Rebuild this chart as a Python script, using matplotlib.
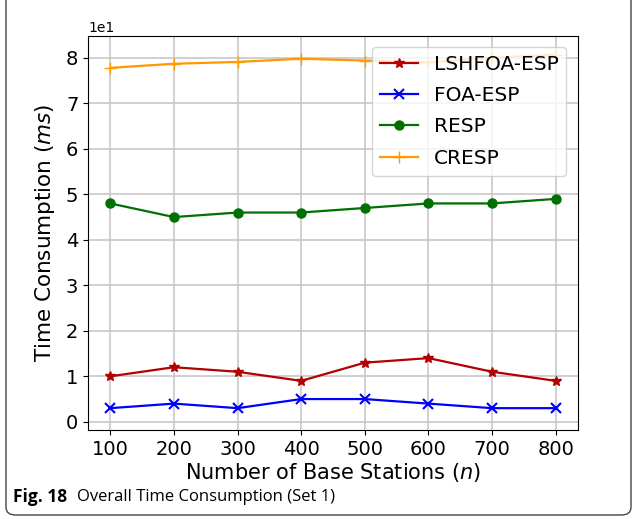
import numpy as np
import matplotlib.pyplot as plt
from matplotlib.patches import FancyBboxPatch

n = [100, 200, 300, 400, 500, 600, 700, 800]
lshfoa = [10, 12, 11, 9, 13, 14, 11, 9]
foa = [3, 4, 3, 5, 5, 4, 3, 3]
resp = [48, 45, 46, 46, 47, 48, 48, 49]
cresp = [77.8, 78.7, 79.1, 79.8, 79.4, 79.0, 80.0, 80.7]

fig = plt.figure(figsize=(6.37, 5.19), dpi=100)
ax = fig.add_axes([88/637, 1 - 430/519, 490/637, 394/519])

ax.plot(n, lshfoa, color='#b30000', marker='*', markersize=7, lw=1.6, label='LSHFOA-ESP')
ax.plot(n, foa, color='#0000ff', marker='x', markersize=6.5, mew=1.5, lw=1.6, label='FOA-ESP')
ax.plot(n, resp, color='#007000', marker='o', markersize=6.5, lw=1.6, label='RESP')
ax.plot(n, cresp, color='#ff9900', marker='+', markersize=8, lw=1.6, label='CRESP')

ax.set_xlim(65, 835)
ax.set_ylim(-1.8, 84.8)
ax.set_xticks(n)
ax.set_yticks(np.arange(0, 90, 10))
ax.ticklabel_format(axis='y', style='sci', scilimits=(1, 1))
ax.yaxis.get_offset_text().set_fontsize(10)
ax.tick_params(labelsize=14)
ax.grid(True, color='#c8c8c8', lw=1.2)
ax.set_xlabel('Number of Base Stations ($n$)', fontsize=15, labelpad=2)
ax.set_ylabel('Time Consumption ($ms$)', fontsize=15.5, labelpad=6)
ax.legend(loc='upper right', fontsize=14.5, borderpad=0.4, labelspacing=0.6,
          handlelength=1.9, handletextpad=0.75, bbox_to_anchor=(0.997, 0.997))

# caption and frame
fig.text(13/637, 1 - 497/519, 'Fig. 18', fontsize=12.5, fontweight='bold', family='Open Sans', va='center')
fig.text(77/637, 1 - 497/519, 'Overall Time Consumption (Set 1)', fontsize=12, family='Open Sans', va='center')
frame = FancyBboxPatch((6/637, 4/519), 625/637, 530/519, boxstyle='round,pad=0,rounding_size=0.015',
                       transform=fig.transFigure, fill=False, ec='#444444', lw=1)
fig.patches.append(frame)

plt.savefig('out.png', dpi=100)
